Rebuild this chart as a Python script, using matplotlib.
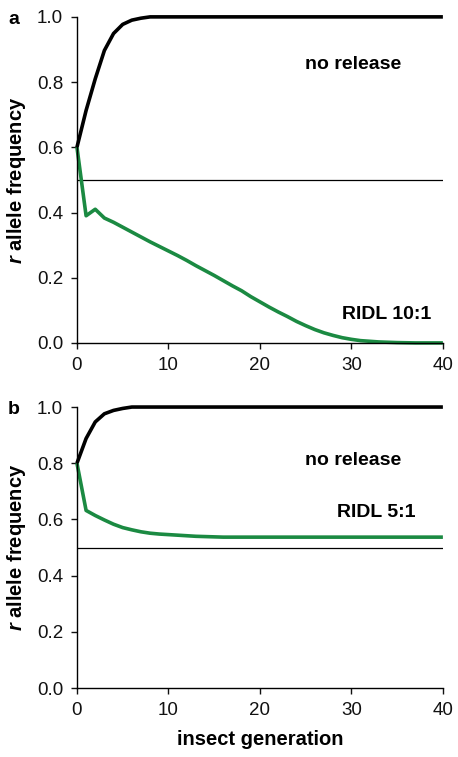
import matplotlib
matplotlib.use("Agg")
import matplotlib.pyplot as plt

plt.rcParams['font.family'] = ['Liberation Sans', 'DejaVu Sans']
plt.rcParams['mathtext.fontset'] = 'custom'
plt.rcParams['mathtext.bfit'] = 'Liberation Sans:bold:italic'
plt.rcParams['mathtext.it'] = 'Liberation Sans:italic'
plt.rcParams['mathtext.bf'] = 'Liberation Sans:bold'

gens = list(range(0, 41))

# Panel a
a_norelease = [0.6, 0.713, 0.81, 0.897, 0.949, 0.977, 0.99, 0.996, 1.0] + [1.0] * 32
a_ridl = [0.6, 0.39, 0.41, 0.383, 0.37, 0.355, 0.34, 0.325, 0.31, 0.296, 0.282,
          0.268, 0.253, 0.237, 0.222, 0.207, 0.191, 0.175, 0.16, 0.142, 0.126,
          0.11, 0.095, 0.081, 0.066, 0.053, 0.041, 0.031, 0.023, 0.016, 0.011,
          0.007, 0.005, 0.003, 0.002, 0.001, 0.0005, 0.0, 0.0, 0.0, 0.0]

# Panel b
b_norelease = [0.8, 0.888, 0.947, 0.976, 0.988, 0.995, 1.0] + [1.0] * 34
b_ridl = [0.8, 0.632, 0.614, 0.598, 0.583, 0.571, 0.563, 0.556, 0.551, 0.548,
          0.546, 0.544, 0.542, 0.54, 0.539, 0.538, 0.537] + [0.537] * 24

threshold = 0.5
xticks = [0, 10, 20, 30, 40]
yticks = [0.0, 0.2, 0.4, 0.6, 0.8, 1.0]

green = '#1b8a42'

fig = plt.figure(figsize=(4.58, 7.57), dpi=100)
ax1 = fig.add_axes([0.168, 0.547, 0.799, 0.4307])
ax2 = fig.add_axes([0.168, 0.0911, 0.799, 0.3712])

def style(ax):
    ax.set_xlim(0, 40)
    ax.set_ylim(0, 1.0)
    ax.set_xticks(xticks)
    ax.set_yticks(yticks)
    ax.set_yticklabels([f"{v:.1f}" for v in yticks])
    ax.spines['top'].set_visible(False)
    ax.spines['right'].set_visible(False)
    ax.spines['left'].set_linewidth(1.0)
    ax.spines['bottom'].set_linewidth(1.0)
    ax.tick_params(direction='out', length=4, width=1.0, labelsize=13.5, colors='#111111')
    ax.tick_params(axis='x', pad=6)
    ax.tick_params(axis='y', pad=6)
    ax.set_ylabel(r'$\mathbfit{r}$ allele frequency', fontsize=14.5, fontweight='bold')

for ax, nr, rd, lbl, letter in [(ax1, a_norelease, a_ridl, 'RIDL 10:1', 'a'),
                                (ax2, b_norelease, b_ridl, 'RIDL 5:1', 'b')]:
    style(ax)
    ax.axhline(threshold, color='black', lw=0.9, xmin=0, xmax=1)
    ax.plot(gens, nr, color='black', lw=2.6, clip_on=False, solid_capstyle='butt')
    ax.plot(gens, rd, color=green, lw=2.6, clip_on=False, solid_capstyle='butt')

ax1.text(30.2, 0.853, 'no release', fontsize=14, fontweight='bold', ha='center', va='center')
ax1.text(33.9, 0.086, 'RIDL 10:1', fontsize=14, fontweight='bold', ha='center', va='center')
ax2.text(30.2, 0.81, 'no release', fontsize=14, fontweight='bold', ha='center', va='center')
ax2.text(32.7, 0.623, 'RIDL 5:1', fontsize=14, fontweight='bold', ha='center', va='center')

ax1.yaxis.set_label_coords(-0.134, 0.5)
ax2.yaxis.set_label_coords(-0.134, 0.5)
ax2.set_xlabel('insect generation', fontsize=14.5, fontweight='bold', labelpad=8)

fig.text(8 / 458, 1 - 19 / 757, 'a', fontsize=14, fontweight='bold', ha='left', va='center')
fig.text(8 / 458, 1 - 409 / 757, 'b', fontsize=14, fontweight='bold', ha='left', va='center')

fig.savefig('out.png', dpi=100)
